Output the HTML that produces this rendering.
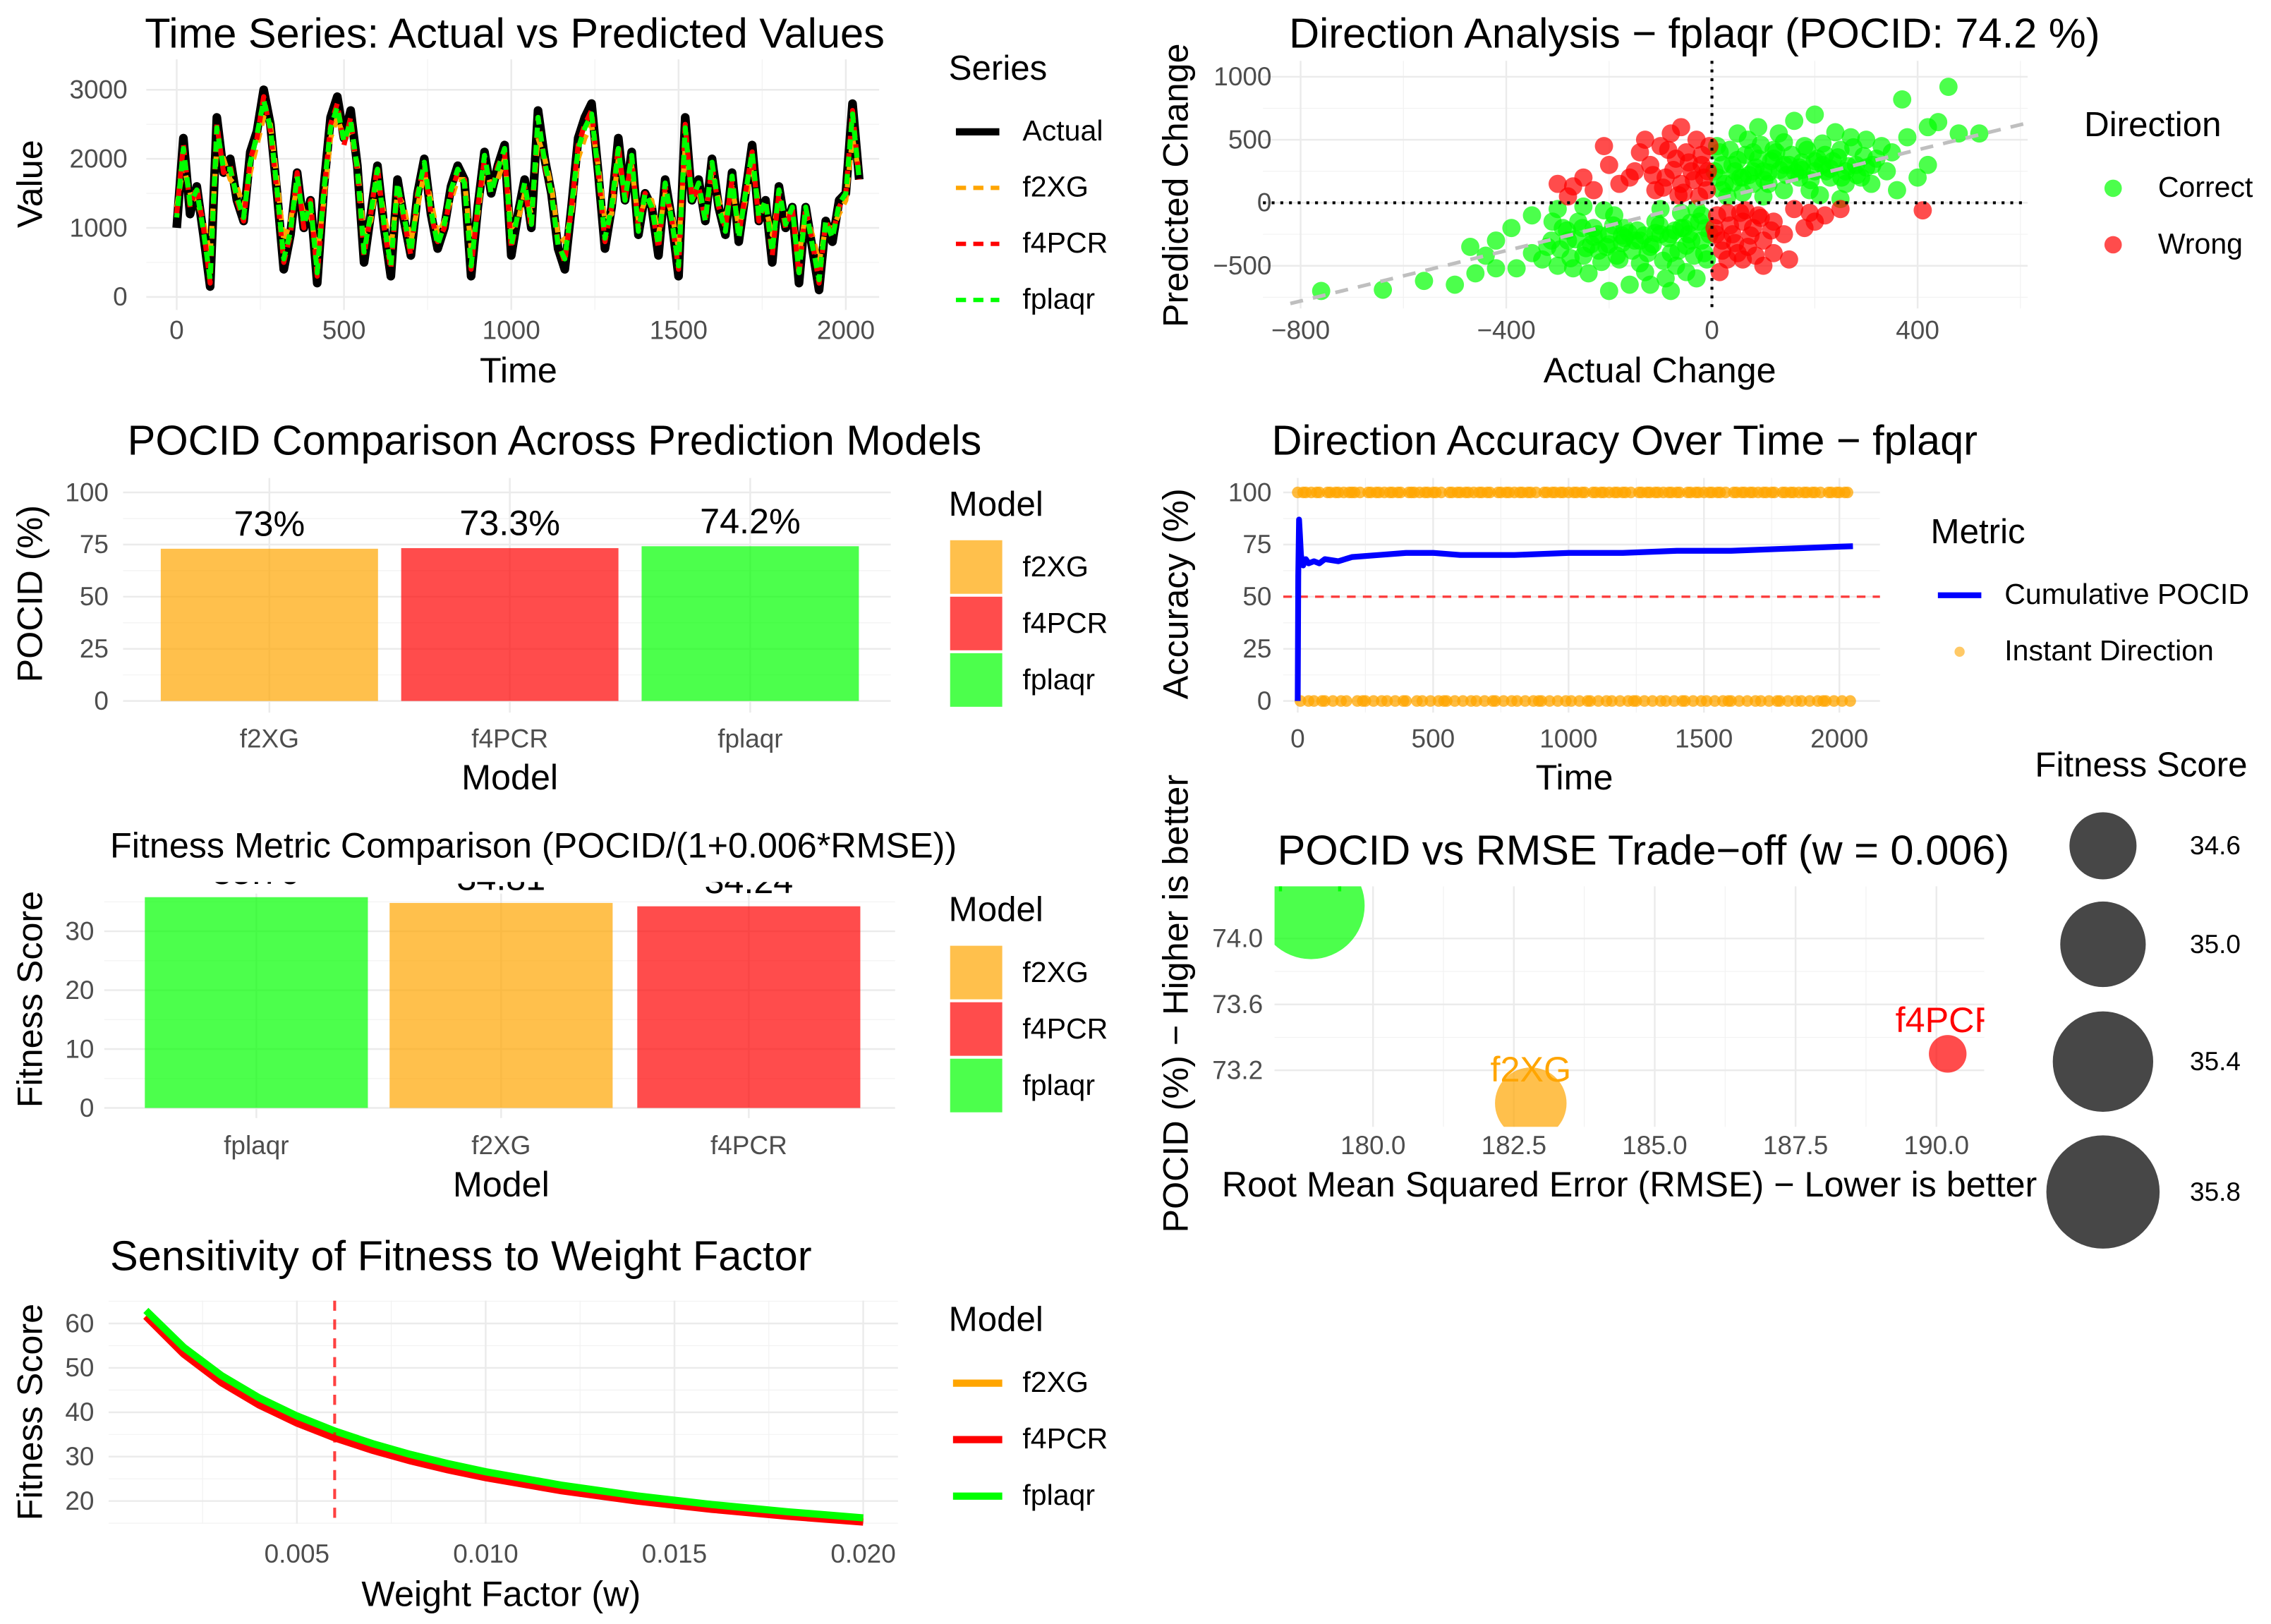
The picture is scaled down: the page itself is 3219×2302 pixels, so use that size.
<!DOCTYPE html>
<html><head><meta charset="utf-8"><style>
html,body{margin:0;padding:0;background:#fff}
svg{display:block}
text{font-family:"Liberation Sans",Arial,sans-serif}
.t{font-size:29px;fill:#000}
.ax{font-size:24.5px;fill:#000}
.tk{font-size:18px;fill:#4d4d4d}
.lg{font-size:20px;fill:#000}
.lt{font-size:24px;fill:#000}
.gmaj{stroke:#ebebeb;stroke-width:1.2}
.gmin{stroke:#f2f2f2;stroke-width:0.6}
</style></head><body>
<svg id="root" width="3219" height="2302" viewBox="0 0 1568 1121.3" preserveAspectRatio="none" xmlns="http://www.w3.org/2000/svg">
<defs>
<clipPath id="c1"><rect x="100" y="40" width="510" height="176"/></clipPath>
<clipPath id="c2"><rect x="872" y="42" width="530" height="172"/></clipPath>
<clipPath id="c4"><rect x="886" y="328" width="414" height="166"/></clipPath>
<clipPath id="c5"><rect x="60" y="609" width="570" height="165"/></clipPath>
<clipPath id="c5b"><rect x="60" y="617" width="570" height="157"/></clipPath>
<clipPath id="c6"><rect x="880" y="612" width="490" height="166"/></clipPath>
<clipPath id="c7"><rect x="75" y="898" width="547" height="156"/></clipPath>
</defs>
<g id="p1"></g>
<g id="p2"></g>
<g id="p3"></g>
<g id="p4"></g>
<g id="p5"></g>
<g id="p6"></g>
<g id="p7"></g>
</svg>
<script>
// ---------- data ----------
const tsStep = 20;
const tsActual = [1000,2300,1200,1600,900,150,2600,1800,2000,1400,1100,2100,2400,3000,2500,1500,400,900,1800,1000,1400,200,1600,2600,2900,2300,2700,1900,500,1200,1900,1000,300,1700,1100,600,1500,2000,1200,700,1000,1600,1900,1700,300,1300,2100,1500,1900,2200,600,1200,1700,1000,2700,2000,1500,700,400,1300,2300,2600,2800,1800,700,1300,2300,1400,2100,900,1500,1300,600,1700,1100,300,2600,1400,1700,1100,2000,1300,900,1800,800,1500,2200,1100,1400,500,1600,1000,1300,200,1300,700,100,1100,800,1400,1500,2800,1700];
const tsF2XG = [1300,1900,1500,1400,1100,600,2200,2000,1700,1600,1300,1800,2200,2600,2500,1700,800,1100,1600,1200,1200,600,1400,2300,2600,2300,2400,1900,900,1100,1700,1200,700,1500,1300,800,1300,1800,1400,900,1100,1400,1700,1700,700,1200,1900,1600,1700,2000,1000,1100,1500,1200,2300,2000,1600,900,800,1200,2000,2300,2500,1900,1100,1200,2000,1500,1900,1100,1400,1400,900,1500,1200,700,2200,1500,1500,1200,1800,1400,1100,1600,1000,1400,1900,1300,1300,900,1400,1200,1200,600,1200,900,500,1000,1000,1200,1400,2300,1800];
const tsF4PCR = [1200,2200,1300,1600,1000,200,2500,1800,1900,1400,1100,2000,2300,2900,2400,1500,500,900,1800,1000,1400,300,1500,2500,2800,2200,2600,1800,600,1200,1900,1000,400,1600,1100,600,1500,1900,1200,800,1000,1500,1800,1700,400,1300,2000,1500,1900,2100,700,1200,1600,1000,2600,1900,1500,800,500,1300,2200,2500,2700,1800,800,1300,2200,1400,2000,1000,1500,1300,700,1600,1100,400,2500,1400,1600,1100,1900,1300,1000,1700,900,1500,2100,1100,1400,600,1500,1000,1300,300,1300,800,200,1100,900,1300,1500,2700,1700];
const tsFplaqr = [1150,2150,1350,1550,950,250,2450,1850,1850,1450,1150,1950,2350,2850,2450,1550,550,950,1750,1050,1350,350,1550,2450,2750,2250,2550,1850,650,1200,1850,1050,450,1650,1150,650,1450,1950,1250,750,1050,1550,1850,1650,450,1300,2050,1500,1850,2150,750,1200,1650,1050,2600,1950,1500,750,550,1300,2150,2450,2650,1800,850,1300,2150,1400,2050,950,1500,1300,750,1650,1100,450,2450,1400,1650,1100,1950,1300,950,1750,850,1500,2100,1150,1400,650,1550,1050,1300,350,1300,750,250,1100,850,1350,1500,2650,1700];

const corrX = [20,40,60,80,100,120,150,180,200,220,250,280,300,320,350,30,70,110,140,170,190,230,260,290,310,10,50,90,130,160,200,240,270,330,380,420,440,460,370,480,520,400,420,360,5,15,60,100,210,250,140,80,45,175,215,300,340,260,120,90,
 -20,-40,-60,-80,-100,-120,-150,-180,-200,-220,-250,-280,-300,-320,-350,-30,-70,-110,-140,-170,-190,-230,-260,-290,-310,-10,-50,-90,-130,-160,-200,-240,-270,-330,-380,-420,-440,-460,-500,-560,-640,-760,-300,-250,-350,-5,-15,-60,-100,-210,-45,-175,-120,-80,-30,-390,-420,-470,
 25,55,85,115,145,175,205,235,265,295,35,65,95,125,155,185,215,245,275,20,50,80,110,140,170,200,230,12,42,72,102,132,162,192,222,252,282,312,
 -25,-55,-85,-115,-145,-175,-205,-235,-265,-295,-35,-65,-95,-125,-155,-185,-215,-245,-275,-20,-50,-80,-110,-140,-170,-200,-230,-12,-42,-72,-102,-132,-162,-192,-222,-252,-282,-312];
const corrY = [100,300,200,400,250,350,300,450,250,380,420,300,500,350,400,50,500,150,480,200,100,200,150,200,150,450,550,600,550,650,700,560,520,450,520,600,640,920,820,550,550,200,300,100,250,400,80,50,60,30,100,150,250,320,300,280,250,250,420,350,
 -100,-300,-200,-400,-250,-350,-300,-450,-250,-380,-420,-300,-500,-350,-400,-50,-500,-150,-480,-200,-100,-200,-150,-200,-150,-450,-550,-600,-550,-650,-700,-560,-520,-450,-520,-300,-420,-560,-650,-620,-690,-700,-50,-30,-100,-250,-400,-80,-50,-60,-250,-320,-650,-700,-600,-200,-520,-350,
 150,200,280,330,220,260,350,330,290,370,420,380,460,400,380,420,470,360,440,300,340,250,240,300,280,330,270,200,160,220,180,260,240,180,250,200,220,300,
 -150,-200,-280,-330,-220,-260,-350,-330,-290,-370,-420,-380,-460,-400,-380,-420,-470,-360,-440,-300,-340,-250,-240,-300,-280,-330,-270,-200,-160,-220,-180,-260,-240,-180,-250,-200,-220,-300];
const wrongX = [-10,-20,-30,-40,-50,-60,-70,-80,-90,-100,-110,-120,-140,-160,-180,-200,-230,-250,-280,-300,-150,-5,-15,-25,-130,-60,-210,-270,-35,-45,-75,-95,-115,-20,-55,-85,-8,-65,
 10,20,30,40,50,60,70,80,90,100,120,140,160,180,200,220,250,120,150,100,5,15,30,410,60,190,35,45,75,95,115,20,55,85,8,65];
const wrongY = [100,300,500,250,400,150,350,550,200,450,100,300,400,200,150,300,100,200,50,150,250,450,200,50,500,600,450,130,180,320,260,120,220,380,80,420,250,60,
 -100,-300,-450,-250,-400,-150,-350,-200,-100,-300,-150,-250,-50,-200,-150,-100,-50,-400,-450,-500,-200,-550,-80,-60,-450,-80,-180,-320,-260,-120,-220,-380,-80,-420,-250,-60];

const models = ["f2XG","f4PCR","fplaqr"];
const modelColors = ["#FFA500","#FF0000","#00FF00"];
const pocidVals = [73.0,73.3,74.2];
const pocidLabels = ["73%","73.3%","74.2%"];
const rmseVals = [182.8,190.2,178.9];
const fitOrder = ["fplaqr","f2XG","f4PCR"];
const fitVals = [35.79,34.81,34.24];
const fitLabels = ["35.79","34.81","34.24"];

const cumT = [0,2,5,8,12,20,30,40,60,80,100,150,200,300,400,500,600,800,1000,1200,1400,1600,1800,2000,2050];
const cumV = [0,60,87,80,70,65,68,66,67,66,68,67,69,70,71,71,70,70,71,71,72,72,73,74,74.2];
const instStep = 10;
const instDir = [1,0,1,1,0,1,0,1,1,0,0,1,1,0,1,1,0,1,0,1,1,1,0,1,0,0,1,1,0,1,1,0,1,0,1,1,0,1,1,0,0,1,1,1,0,1,0,1,1,0,1,1,0,1,0,0,1,1,0,1,1,0,1,1,0,1,0,1,1,0,1,1,0,0,1,1,0,1,1,0,1,0,1,1,0,1,1,0,1,0,0,1,1,0,1,1,0,1,1,0,1,0,1,1,0,1,1,0,0,1,1,0,1,1,0,1,0,1,1,0,1,1,0,1,0,0,1,1,0,1,1,0,1,1,0,1,0,1,1,0,1,1,0,0,1,1,0,1,1,0,1,0,1,1,0,1,1,0,1,0,0,1,1,0,1,1,0,1,1,0,1,0,1,1,0,1,1,0,0,1,1,0,1,1,0,1,0,1,1,0,1,1,0,1,0,0,1,1,0,1,1,0,1,1,0];

const sensW = [0.001,0.002,0.003,0.004,0.005,0.006,0.007,0.008,0.009,0.010,0.012,0.014,0.016,0.018,0.020];
const sensF2XG = [61.72,53.46,47.15,42.17,38.14,34.82,32.02,29.65,27.60,25.81,22.86,20.51,18.60,17.01,15.68];
const sensF4PCR = [61.59,53.10,46.67,41.63,37.57,34.23,31.44,29.07,27.03,25.26,22.33,20.01,18.13,16.57,15.26];
const sensFplaqr = [62.94,54.65,48.28,43.25,39.17,35.79,32.94,30.52,28.43,26.60,23.58,21.17,19.21,17.58,16.21];
const sizeLegend = [34.6,35.0,35.4,35.8];

// ---------- helpers ----------
const NS="http://www.w3.org/2000/svg";
function mk(parent,tag,attrs,txt){const e=document.createElementNS(NS,tag);for(const k in attrs)e.setAttribute(k,attrs[k]);if(txt!==undefined)e.textContent=txt;parent.appendChild(e);return e;}
function lin(d0,d1,r0,r1){return v=>r0+(v-d0)*(r1-r0)/(d1-d0);}
function hline(g,y,x0,x1,cls){const l=mk(g,'line',{x1:x0,x2:x1,y1:y,y2:y,class:cls});}
function vline(g,x,y0,y1,cls){const l=mk(g,'line',{x1:x,x2:x,y1:y0,y2:y1,class:cls});}
function txt(g,x,y,s,cls,anchor,name,extra){const t=mk(g,'text',Object.assign({x:x,y:y,class:cls,'text-anchor':anchor||'start'},extra||{}),s);return t;}
function ylab(g,x,y,s,name){const t=mk(g,'text',{x:0,y:0,class:'ax','text-anchor':'middle',transform:`translate(${x},${y}) rotate(-90)`},s);}
function poly(g,xs,ys,attrs,name){const p=mk(g,'polyline',Object.assign({points:xs.map((x,i)=>x.toFixed(2)+','+ys[i].toFixed(2)).join(' '),fill:'none'},attrs));return p;}

// ---------- Panel 1 ----------
(function(){
const g=document.getElementById('p1');
const X=lin(0,2000,122,584), Y=lin(0,3000,205,62);
for(let v=250;v<2100;v+=500)vline(g,X(v),41,214,'gmin');
for(let v=500;v<3500;v+=1000)hline(g,Y(v),101,607,'gmin');
[0,500,1000,1500,2000].forEach(v=>vline(g,X(v),41,214,'gmaj'));
[0,1000,2000,3000].forEach(v=>hline(g,Y(v),101,607,'gmaj'));
[0,500,1000,1500,2000].forEach(v=>txt(g,X(v),234,String(v),'tk','middle','x-tick-label'));
[0,1000,2000,3000].forEach(v=>txt(g,88,Y(v)+6,String(v),'tk','end','y-tick-label'));
txt(g,100,33,'Time Series: Actual vs Predicted Values','t','start','chart-title');
txt(g,358,264,'Time','ax','middle','x-axis-title');
ylab(g,29,127,'Value','y-axis-title');
const pg=mk(g,'g',{'clip-path':'url(#c1)'});
const xs=tsActual.map((v,i)=>X(i*tsStep));
poly(pg,xs,tsActual.map(Y),{stroke:'#000','stroke-width':6,'stroke-linejoin':'round'},'line-actual');
poly(pg,xs,tsF2XG.map(Y),{stroke:'#FFA500','stroke-width':3.5,'stroke-dasharray':'7 5','stroke-linejoin':'round'},'line-f2xg');
poly(pg,xs,tsF4PCR.map(Y),{stroke:'#FF0000','stroke-width':3.5,'stroke-dasharray':'7 5','stroke-linejoin':'round'},'line-f4pcr');
poly(pg,xs,tsFplaqr.map(Y),{stroke:'#00FF00','stroke-width':3.5,'stroke-dasharray':'7 5','stroke-dashoffset':4,'stroke-linejoin':'round'},'line-fplaqr');
txt(g,655,55,'Series','lt','start','legend-title');
const names=['Actual','f2XG','f4PCR','fplaqr'], cols=['#000','#FFA500','#FF0000','#00FF00'];
names.forEach((n,i)=>{const y=91+i*38.7;
 const l=mk(g,'line',{x1:660,x2:690,y1:y,y2:y,stroke:cols[i],'stroke-width':i?3:5,'stroke-dasharray':i?'7 5':'none'});
 
 txt(g,706,y+6,n,'lg','start','legend-entry');});
})();

// ---------- Panel 2 ----------
(function(){
const g=document.getElementById('p2');
const X=lin(0,400,1182,1324), Y=lin(0,1000,140,53);
[-600,-200,200,600].forEach(v=>vline(g,X(v),42,213,'gmin'));
[-750,-250,250,750].forEach(v=>hline(g,Y(v),872,1400,'gmin'));
[-800,-400,0,400].forEach(v=>vline(g,X(v),42,213,'gmaj'));
[-500,0,500,1000].forEach(v=>hline(g,Y(v),872,1400,'gmaj'));
[-800,-400,0,400].forEach(v=>txt(g,X(v),234,v<0?'−'+(-v):String(v),'tk','middle','x-tick-label'));
[-500,0,500,1000].forEach(v=>txt(g,878,Y(v)+6,v<0?'−'+(-v):String(v),'tk','end','y-tick-label'));
txt(g,890,33,'Direction Analysis − fplaqr (POCID: 74.2 %)','t','start','chart-title');
txt(g,1146,264,'Actual Change','ax','middle','x-axis-title');
ylab(g,820,128,'Predicted Change','y-axis-title');
const pg=mk(g,'g',{'clip-path':'url(#c2)'});
corrX.forEach((x,i)=>{const c=mk(pg,'circle',{cx:X(x),cy:Y(corrY[i]),r:6.3,fill:'#00FF00','fill-opacity':0.7});
 });
wrongX.forEach((x,i)=>{const c=mk(pg,'circle',{cx:X(x),cy:Y(wrongY[i]),r:6.3,fill:'#FF0000','fill-opacity':0.7});
 });
const rl=mk(pg,'line',{x1:X(-820),y1:Y(-800),x2:X(620),y2:Y(640),stroke:'#bfbfbf','stroke-width':2.5,'stroke-dasharray':'9 7'});

const z1=mk(g,'line',{x1:X(0),x2:X(0),y1:42,y2:213,stroke:'#000','stroke-width':2,'stroke-dasharray':'2 4'});

const z2=mk(g,'line',{x1:872,x2:1400,y1:Y(0),y2:Y(0),stroke:'#000','stroke-width':2,'stroke-dasharray':'2 4'});

txt(g,1439,94,'Direction','lt','start','legend-title');
[['Correct','#00FF00'],['Wrong','#FF0000']].forEach((d,i)=>{const y=130+i*39;
 const c=mk(g,'circle',{cx:1459,cy:y,r:6,fill:d[1],'fill-opacity':0.7});
 txt(g,1490,y+6,d[0],'lg','start','legend-entry');});
})();

// ---------- bar helper ----------
function legendBoxes(g,y0){
 txt(g,655,y0,'Model','lt','start','legend-title');
 models.forEach((m,i)=>{const y=y0+17+i*39;
  const r=mk(g,'rect',{x:656,y:y,width:36,height:37,fill:modelColors[i],'fill-opacity':0.7});
  
  txt(g,706,y+25,m,'lg','start','legend-entry');});
}

// ---------- Panel 3 ----------
(function(){
const g=document.getElementById('p3');
const Y=lin(0,100,484,340);
const cx=[186,352,518];
[12.5,37.5,62.5,87.5].forEach(v=>hline(g,Y(v),85,615,'gmin'));
[0,25,50,75,100].forEach(v=>hline(g,Y(v),85,615,'gmaj'));
cx.forEach(x=>vline(g,x,330,492,'gmaj'));
[0,25,50,75,100].forEach(v=>txt(g,75,Y(v)+6,String(v),'tk','end','y-tick-label'));
txt(g,88,314,'POCID Comparison Across Prediction Models','t','start','chart-title');
txt(g,352,545,'Model','ax','middle','x-axis-title');
ylab(g,29,410,'POCID (%)','y-axis-title');
models.forEach((m,i)=>{
 const r=mk(g,'rect',{x:cx[i]-75,y:Y(pocidVals[i]),width:150,height:Y(0)-Y(pocidVals[i]),fill:modelColors[i],'fill-opacity':0.7});
 
 txt(g,cx[i],Y(pocidVals[i])-9,pocidLabels[i],'ax','middle','bar-value-label');
 txt(g,cx[i],516,m,'tk','middle','x-tick-label');});
legendBoxes(g,356);
})();

// ---------- Panel 4 ----------
(function(){
const g=document.getElementById('p4');
const X=lin(0,2000,896,1270), Y=lin(0,100,484,340);
[250,750,1250,1750].forEach(v=>vline(g,X(v),330,492,'gmin'));
[12.5,37.5,62.5,87.5].forEach(v=>hline(g,Y(v),886,1298,'gmin'));
[0,500,1000,1500,2000].forEach(v=>vline(g,X(v),330,492,'gmaj'));
[0,25,50,75,100].forEach(v=>hline(g,Y(v),886,1298,'gmaj'));
[0,500,1000,1500,2000].forEach(v=>txt(g,X(v),516,String(v),'tk','middle','x-tick-label'));
[0,25,50,75,100].forEach(v=>txt(g,878,Y(v)+6,String(v),'tk','end','y-tick-label'));
txt(g,878,314,'Direction Accuracy Over Time − fplaqr','t','start','chart-title');
txt(g,1087,545,'Time','ax','middle','x-axis-title');
ylab(g,820,410,'Accuracy (%)','y-axis-title');
const pg=mk(g,'g',{'clip-path':'url(#c4)'});
instDir.forEach((d,i)=>{const c=mk(pg,'circle',{cx:X(i*instStep),cy:Y(d*100),r:4,fill:'#FFA500','fill-opacity':0.75});
 });
const rl=mk(pg,'line',{x1:886,x2:1298,y1:Y(50),y2:Y(50),stroke:'#FF0000','stroke-opacity':0.75,'stroke-width':1.6,'stroke-dasharray':'6 5'});

poly(pg,cumT.map(X),cumV.map(Y),{stroke:'#0000FF','stroke-width':4,'stroke-linejoin':'round'},'cumulative-pocid-line');
txt(g,1333,375,'Metric','lt','start','legend-title');
const l=mk(g,'line',{x1:1338,x2:1368,y1:411,y2:411,stroke:'#0000FF','stroke-width':4});
txt(g,1384,417,'Cumulative POCID','lg','start','legend-entry');
const c=mk(g,'circle',{cx:1353,cy:450,r:3.5,fill:'#FFA500','fill-opacity':0.6});
txt(g,1384,456,'Instant Direction','lg','start','legend-entry');
})();

// ---------- Panel 5 ----------
(function(){
const g=document.getElementById('p5');
const Y=lin(0,30,765,643);
const cx=[177,346,517];
[5,15,25,35].forEach(v=>hline(g,Y(v),72,618,'gmin'));
[0,10,20,30].forEach(v=>hline(g,Y(v),72,618,'gmaj'));
cx.forEach(x=>vline(g,x,617,772,'gmaj'));
[0,10,20,30].forEach(v=>txt(g,65,Y(v)+6,String(v),'tk','end','y-tick-label'));
txt(g,76,592,'Fitness Metric Comparison (POCID/(1+0.006*RMSE))','lg','start','chart-title',{style:'font-size:24.5px'});
txt(g,346,826,'Model','ax','middle','x-axis-title');
ylab(g,29,690,'Fitness Score','y-axis-title');
const pg=mk(g,'g',{'clip-path':'url(#c5b)'});
const tg=mk(g,'g',{'clip-path':'url(#c5)'});
fitOrder.forEach((m,i)=>{const ci=models.indexOf(m);
 const r=mk(pg,'rect',{x:cx[i]-77,y:Y(fitVals[i]),width:154,height:Y(0)-Y(fitVals[i]),fill:modelColors[ci],'fill-opacity':0.7});
 
 txt(tg,cx[i],Y(fitVals[i])-9,fitLabels[i],'ax','middle','bar-value-label');
 txt(g,cx[i],797,m,'tk','middle','x-tick-label');});
legendBoxes(g,636);
})();

// ---------- Panel 6 ----------
(function(){
const g=document.getElementById('p6');
const X=lin(180,190,948,1337), Y=lin(74,73.2,648,739);
const R2=lin(34.24,35.79,169,1369);
const rad=f=>Math.sqrt(Math.max(R2(f),4));
[181.25,183.75,186.25,188.75].forEach(v=>vline(g,X(v),612,778,'gmin'));
[73.4,73.8].forEach(v=>hline(g,Y(v),880,1370,'gmin'));
[180,182.5,185,187.5,190].forEach(v=>vline(g,X(v),612,778,'gmaj'));
[73.2,73.6,74.0].forEach(v=>hline(g,Y(v),880,1370,'gmaj'));
[180,182.5,185,187.5,190].forEach(v=>txt(g,X(v),797,v.toFixed(1),'tk','middle','x-tick-label'));
[73.2,73.6,74.0].forEach(v=>txt(g,872,Y(v)+6,v.toFixed(1),'tk','end','y-tick-label'));
txt(g,882,597,'POCID vs RMSE Trade−off (w = 0.006)','t','start','chart-title');
txt(g,1125,826,'Root Mean Squared Error (RMSE) − Lower is better','ax','middle','x-axis-title');
ylab(g,820,693,'POCID (%) − Higher is better','y-axis-title');
const pg=mk(g,'g',{'clip-path':'url(#c6)'});
models.forEach((m,i)=>{const f=fitVals[fitOrder.indexOf(m)];
 const c=mk(pg,'circle',{cx:X(rmseVals[i]),cy:Y(pocidVals[i]),r:rad(f),fill:modelColors[i],'fill-opacity':0.7});
 
 txt(pg,X(rmseVals[i]),Y(pocidVals[i])-15,m,'ax','middle','bubble-label',{style:'fill:'+modelColors[i]});});
txt(g,1405,536,'Fitness Score','lt','start','legend-title');
const ly=[584,652,733,823];
sizeLegend.forEach((v,i)=>{const c=mk(g,'circle',{cx:1452,cy:ly[i],r:rad(v)+2,fill:'#333','fill-opacity':0.9});
 
 txt(g,1512,ly[i]+6,v.toFixed(1),'tk','start','size-legend-entry',{style:'fill:#000'});});
})();

// ---------- Panel 7 ----------
(function(){
const g=document.getElementById('p7');
const X=lin(0.005,0.020,205,596), Y=lin(60,20,913.8,1036.4);
[0.0025,0.0075,0.0125,0.0175].forEach(v=>vline(g,X(v),898,1052,'gmin'));
[15,25,35,45,55,65].forEach(v=>{if(Y(v)>898&&Y(v)<1053)hline(g,Y(v),75,620,'gmin');});
[0.005,0.010,0.015,0.020].forEach(v=>vline(g,X(v),898,1052,'gmaj'));
[20,30,40,50,60].forEach(v=>hline(g,Y(v),75,620,'gmaj'));
[0.005,0.010,0.015,0.020].forEach(v=>txt(g,X(v),1079,v.toFixed(3),'tk','middle','x-tick-label'));
[20,30,40,50,60].forEach(v=>txt(g,65,Y(v)+6,String(v),'tk','end','y-tick-label'));
txt(g,76,877,'Sensitivity of Fitness to Weight Factor','t','start','chart-title');
txt(g,346,1109,'Weight Factor (w)','ax','middle','x-axis-title');
ylab(g,29,975,'Fitness Score','y-axis-title');
const pg=mk(g,'g',{'clip-path':'url(#c7)'});
const xs=sensW.map(X);
poly(pg,xs,sensF2XG.map(Y),{stroke:'#FFA500','stroke-width':5},'line-f2xg');
poly(pg,xs,sensF4PCR.map(Y),{stroke:'#FF0000','stroke-width':5},'line-f4pcr');
poly(pg,xs,sensFplaqr.map(Y),{stroke:'#00FF00','stroke-width':5},'line-fplaqr');
const d=mk(pg,'line',{x1:X(0.006),x2:X(0.006),y1:898,y2:1052,stroke:'#FF0000','stroke-opacity':0.75,'stroke-width':2,'stroke-dasharray':'7 6'});

txt(g,655,919,'Model','lt','start','legend-title');
models.forEach((m,i)=>{const y=955+i*39;
 const l=mk(g,'line',{x1:658,x2:692,y1:y,y2:y,stroke:modelColors[i],'stroke-width':5});
 
 txt(g,706,y+6,m,'lg','start','legend-entry');});
})();
</script>
</body></html>
